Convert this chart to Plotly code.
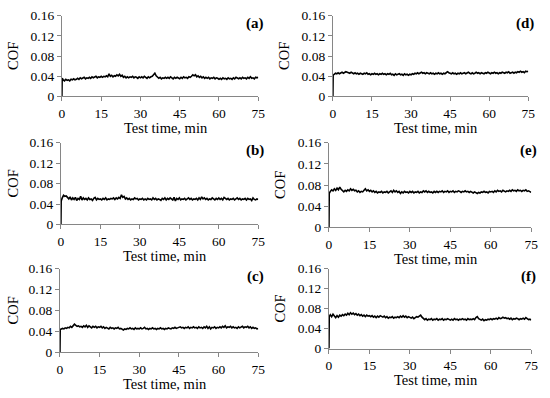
import plotly.graph_objects as go

W, H = 550, 398

# time axis in minutes: start at 0 (COF 0), a fast rise, then every 0.5 min
time_min = [0.0, 0.1] + [i * 0.5 for i in range(1, 151)]

cof_a = [0.0, 0.036,
    0.033,0.031,0.034,0.032,0.033,0.031,0.034,0.033,0.035,0.033,
    0.034,0.036,0.034,0.037,0.035,0.036,0.038,0.035,0.037,0.036,
    0.038,0.036,0.039,0.037,0.038,0.040,0.037,0.039,0.038,0.040,
    0.038,0.040,0.039,0.041,0.039,0.045,0.040,0.042,0.039,0.041,
    0.040,0.043,0.041,0.044,0.040,0.042,0.038,0.040,0.037,0.039,
    0.037,0.039,0.038,0.040,0.037,0.039,0.038,0.036,0.039,0.037,
    0.039,0.037,0.040,0.038,0.036,0.039,0.037,0.039,0.040,0.043,
    0.046,0.041,0.038,0.036,0.038,0.035,0.037,0.036,0.038,0.036,
    0.038,0.036,0.039,0.037,0.035,0.038,0.036,0.038,0.037,0.035,
    0.038,0.036,0.039,0.037,0.038,0.036,0.039,0.038,0.040,0.043,
    0.041,0.043,0.039,0.041,0.038,0.040,0.037,0.039,0.036,0.038,
    0.036,0.038,0.035,0.037,0.036,0.038,0.035,0.037,0.036,0.034,
    0.036,0.034,0.037,0.035,0.036,0.034,0.037,0.035,0.036,0.034,
    0.037,0.035,0.038,0.036,0.035,0.037,0.035,0.038,0.036,0.037,
    0.035,0.038,0.036,0.039,0.036,0.037,0.035,0.038,0.037,0.038]

cof_d = [0.0, 0.042,
    0.044,0.046,0.045,0.047,0.045,0.046,0.048,0.046,0.047,0.049,
    0.048,0.047,0.046,0.048,0.046,0.045,0.047,0.045,0.046,0.044,
    0.046,0.045,0.044,0.046,0.045,0.047,0.044,0.045,0.043,0.045,
    0.044,0.046,0.044,0.045,0.043,0.045,0.044,0.046,0.044,0.045,
    0.043,0.045,0.044,0.046,0.043,0.044,0.042,0.045,0.043,0.044,
    0.045,0.043,0.044,0.042,0.045,0.043,0.044,0.042,0.044,0.043,
    0.045,0.044,0.046,0.045,0.047,0.045,0.046,0.048,0.046,0.047,
    0.045,0.047,0.046,0.045,0.047,0.045,0.046,0.044,0.046,0.045,
    0.047,0.045,0.046,0.044,0.046,0.045,0.047,0.049,0.047,0.046,
    0.045,0.047,0.045,0.046,0.044,0.046,0.045,0.047,0.045,0.046,
    0.047,0.045,0.046,0.048,0.046,0.045,0.047,0.045,0.046,0.048,
    0.046,0.047,0.045,0.047,0.046,0.045,0.047,0.046,0.048,0.046,
    0.045,0.047,0.046,0.048,0.046,0.047,0.045,0.047,0.046,0.048,
    0.047,0.046,0.048,0.047,0.049,0.046,0.047,0.048,0.046,0.048,
    0.047,0.049,0.048,0.050,0.048,0.049,0.047,0.050,0.049,0.050]

cof_b = [0.0, 0.046,
    0.052,0.057,0.055,0.056,0.053,0.050,0.054,0.048,0.052,0.049,
    0.053,0.047,0.051,0.049,0.055,0.048,0.052,0.049,0.051,0.048,
    0.052,0.049,0.050,0.047,0.051,0.053,0.048,0.051,0.049,0.050,
    0.048,0.051,0.049,0.052,0.048,0.050,0.049,0.051,0.050,0.052,
    0.049,0.052,0.050,0.053,0.051,0.058,0.053,0.055,0.050,0.052,
    0.049,0.051,0.048,0.050,0.049,0.052,0.050,0.051,0.048,0.050,
    0.049,0.051,0.048,0.050,0.048,0.051,0.049,0.050,0.048,0.052,
    0.049,0.051,0.048,0.050,0.049,0.047,0.051,0.049,0.052,0.048,
    0.051,0.049,0.052,0.050,0.048,0.053,0.046,0.051,0.049,0.052,
    0.048,0.050,0.049,0.051,0.048,0.050,0.052,0.049,0.051,0.048,
    0.050,0.049,0.051,0.048,0.052,0.049,0.054,0.050,0.052,0.049,
    0.051,0.048,0.050,0.049,0.052,0.050,0.048,0.051,0.049,0.052,
    0.049,0.051,0.048,0.053,0.050,0.049,0.051,0.048,0.050,0.049,
    0.051,0.048,0.050,0.052,0.049,0.051,0.048,0.050,0.049,0.051,
    0.048,0.051,0.049,0.050,0.047,0.052,0.049,0.048,0.050,0.049]

cof_e = [0.0, 0.064,
    0.068,0.071,0.069,0.073,0.070,0.074,0.071,0.076,0.072,0.070,
    0.067,0.070,0.068,0.071,0.069,0.073,0.070,0.072,0.069,0.070,
    0.067,0.069,0.066,0.068,0.067,0.070,0.073,0.069,0.071,0.068,
    0.070,0.067,0.069,0.066,0.068,0.065,0.067,0.066,0.068,0.065,
    0.067,0.066,0.068,0.065,0.067,0.069,0.066,0.070,0.067,0.069,
    0.066,0.068,0.064,0.067,0.065,0.068,0.066,0.067,0.065,0.068,
    0.066,0.068,0.065,0.067,0.066,0.068,0.065,0.067,0.066,0.069,
    0.067,0.069,0.066,0.068,0.066,0.067,0.065,0.068,0.066,0.068,
    0.066,0.068,0.067,0.069,0.066,0.068,0.067,0.069,0.066,0.068,
    0.067,0.069,0.066,0.068,0.067,0.069,0.068,0.066,0.068,0.067,
    0.069,0.067,0.068,0.066,0.068,0.067,0.065,0.067,0.066,0.064,
    0.066,0.065,0.067,0.066,0.068,0.066,0.067,0.065,0.068,0.067,
    0.068,0.066,0.069,0.067,0.070,0.068,0.069,0.067,0.070,0.068,
    0.067,0.069,0.068,0.070,0.068,0.071,0.069,0.070,0.068,0.071,
    0.069,0.070,0.068,0.070,0.069,0.071,0.068,0.069,0.067,0.066]

cof_c = [0.0, 0.044,
    0.045,0.046,0.045,0.047,0.046,0.048,0.047,0.050,0.048,0.051,
    0.054,0.052,0.050,0.051,0.049,0.050,0.048,0.051,0.049,0.052,
    0.048,0.051,0.049,0.047,0.050,0.048,0.050,0.047,0.049,0.048,
    0.050,0.047,0.049,0.046,0.048,0.047,0.045,0.048,0.046,0.047,
    0.045,0.047,0.046,0.048,0.045,0.046,0.044,0.043,0.045,0.044,
    0.046,0.045,0.047,0.045,0.046,0.044,0.047,0.045,0.046,0.045,
    0.047,0.045,0.046,0.048,0.045,0.046,0.044,0.046,0.045,0.047,
    0.045,0.046,0.044,0.046,0.045,0.047,0.045,0.046,0.044,0.046,
    0.045,0.047,0.046,0.045,0.047,0.046,0.048,0.046,0.047,0.048,
    0.049,0.047,0.048,0.046,0.048,0.047,0.049,0.046,0.048,0.047,
    0.049,0.047,0.048,0.046,0.049,0.047,0.048,0.046,0.049,0.047,
    0.050,0.046,0.049,0.045,0.048,0.047,0.049,0.046,0.048,0.047,
    0.049,0.047,0.050,0.048,0.051,0.047,0.049,0.048,0.050,0.047,
    0.049,0.047,0.048,0.046,0.049,0.047,0.048,0.050,0.047,0.049,
    0.048,0.050,0.047,0.049,0.046,0.048,0.046,0.047,0.045,0.046]

cof_f = [0.0, 0.064,
    0.068,0.064,0.069,0.066,0.062,0.066,0.063,0.067,0.065,0.068,
    0.066,0.069,0.067,0.071,0.068,0.072,0.069,0.071,0.068,0.070,
    0.067,0.069,0.066,0.068,0.065,0.067,0.064,0.067,0.065,0.066,
    0.064,0.066,0.063,0.065,0.062,0.065,0.063,0.066,0.064,0.063,
    0.065,0.062,0.064,0.061,0.063,0.062,0.064,0.061,0.063,0.062,
    0.064,0.062,0.065,0.063,0.066,0.063,0.065,0.062,0.064,0.062,
    0.061,0.063,0.060,0.062,0.064,0.063,0.066,0.067,0.063,0.060,
    0.058,0.060,0.057,0.059,0.058,0.060,0.057,0.059,0.058,0.060,
    0.057,0.059,0.058,0.060,0.057,0.059,0.058,0.060,0.058,0.057,
    0.059,0.057,0.060,0.058,0.059,0.057,0.059,0.058,0.060,0.058,
    0.059,0.057,0.060,0.058,0.059,0.058,0.060,0.058,0.062,0.064,
    0.060,0.058,0.057,0.059,0.056,0.058,0.057,0.059,0.058,0.060,
    0.058,0.060,0.059,0.061,0.059,0.062,0.060,0.061,0.063,0.061,
    0.062,0.060,0.061,0.059,0.061,0.058,0.060,0.059,0.061,0.060,
    0.058,0.060,0.059,0.061,0.059,0.062,0.060,0.058,0.059,0.057]

panel_labels = ["(a)", "(b)", "(c)", "(d)", "(e)", "(f)"]
series = [cof_a, cof_b, cof_c, cof_d, cof_e, cof_f]
x_ticks = [0, 15, 30, 45, 60, 75]
y_ticks = [0, 0.04, 0.08, 0.12, 0.16]
y_tick_text = ["0", "0.04", "0.08", "0.12", "0.16"]
x_title = "Test time, min"
y_title = "COF"

# plot-area boxes in pixels: (left, right, top, bottom)
boxes = [
    (60, 260, 9, 93),
    (59, 260, 141, 226),
    (58, 260, 272, 359),
    (336, 535, 9, 93),
    (332, 538, 141, 229),
    (332, 538, 272, 355),
]

FONT = "Liberation Serif"
AXC = "#868686"

fig = go.Figure()
annotations = []
layout = {}
for i, (vals, lab, (l, r, t, b)) in enumerate(zip(series, panel_labels, boxes)):
    n = i + 1
    xa = "x" if n == 1 else f"x{n}"
    ya = "y" if n == 1 else f"y{n}"
    fig.add_trace(go.Scatter(x=time_min, y=vals, mode="lines",
                             line=dict(color="black", width=1.6),
                             xaxis=xa, yaxis=ya, showlegend=False,
                             hoverinfo="skip"))
    xk = "xaxis" if n == 1 else f"xaxis{n}"
    yk = "yaxis" if n == 1 else f"yaxis{n}"
    layout[xk] = dict(domain=[l / W, r / W], anchor=ya, range=[0, 75],
                      tickvals=x_ticks, ticks="outside", ticklen=4,
                      tickcolor=AXC, showline=True, linecolor=AXC,
                      linewidth=1, showgrid=False, zeroline=False,
                      tickfont=dict(family=FONT, size=13.5, color="black"))
    layout[yk] = dict(domain=[1 - b / H, 1 - t / H], anchor=xa,
                      range=[0, 0.16], tickvals=y_ticks, ticktext=y_tick_text,
                      ticks="outside", ticklen=4, tickcolor=AXC,
                      showline=True, linecolor=AXC, linewidth=1,
                      showgrid=False, zeroline=False,
                      tickfont=dict(family=FONT, size=13.5, color="black"))
    ytx = 10 if l < 275 else l - 50
    annotations.append(dict(text=y_title, xref="paper", yref="paper",
                            x=ytx / W, y=1 - (t + b) / 2 / H, textangle=-90,
                            showarrow=False, xanchor="center", yanchor="middle",
                            font=dict(family=FONT, size=14.5, color="black")))
    annotations.append(dict(text=x_title, xref="paper", yref="paper",
                            x=((l + r) / 2 + 6) / W, y=1 - (b + 23) / H,
                            showarrow=False, xanchor="center", yanchor="top",
                            borderpad=0,
                            font=dict(family=FONT, size=14.5, color="black")))
    annotations.append(dict(text=f"<b>{lab}</b>", xref="paper", yref="paper",
                            x=(r - 3) / W, y=1 - (t + 8) / H,
                            showarrow=False, xanchor="center", yanchor="middle",
                            font=dict(family=FONT, size=15, color="black")))

fig.update_layout(width=W, height=H, margin=dict(l=0, r=0, t=0, b=0),
                  paper_bgcolor="white", plot_bgcolor="white",
                  annotations=annotations, **layout)
fig.write_html("out.html", config={"displayModeBar": False},
               post_script="document.body.style.margin='0';")
